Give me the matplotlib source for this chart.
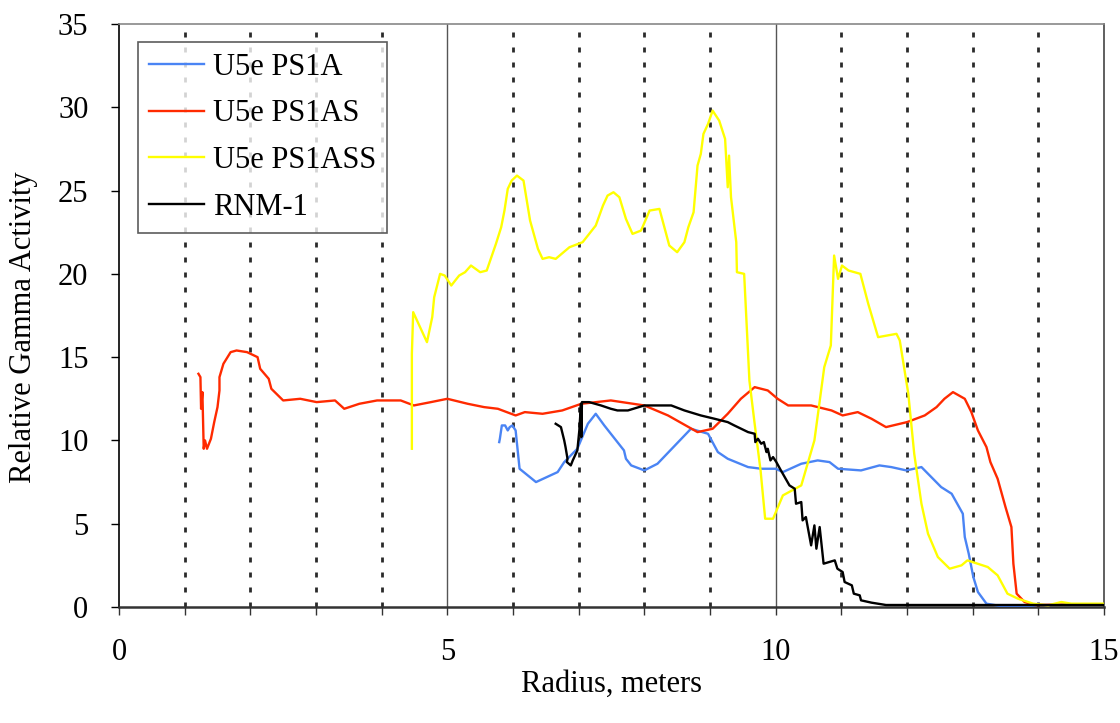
import matplotlib
matplotlib.use("Agg")
import matplotlib.pyplot as plt

# ---------------- data ----------------
red_x = [1.21, 1.24, 1.25, 1.27, 1.29, 1.31, 1.34, 1.40, 1.45, 1.50, 1.53, 1.53, 1.59, 1.70, 1.79,
         1.95, 2.11, 2.15, 2.28, 2.32, 2.50, 2.76, 3.01, 3.29, 3.43, 3.66, 3.93, 4.29, 4.49, 4.75,
         5.00, 5.31, 5.56, 5.77, 6.04, 6.18, 6.45, 6.75, 7.04, 7.49, 8.00, 8.36, 8.81, 9.04, 9.27,
         9.47, 9.68, 9.88, 10.03, 10.19, 10.54, 10.85, 11.02, 11.25, 11.46, 11.68, 12.00, 12.27,
         12.45, 12.57, 12.70, 12.88, 12.98, 13.08, 13.21, 13.27, 13.38, 13.50, 13.59, 13.62, 13.67,
         13.79, 13.95, 14.5, 15.0]
red_y = [14.0, 13.8, 11.9, 12.9, 9.5, 10.0, 9.5, 10.1, 11.1, 12.0, 13.0, 13.8, 14.6, 15.3, 15.4,
         15.3, 15.0, 14.3, 13.7, 13.1, 12.4, 12.5, 12.3, 12.4, 11.9, 12.2, 12.4, 12.4, 12.1, 12.3,
         12.5, 12.2, 12.0, 11.9, 11.5, 11.7, 11.6, 11.8, 12.2, 12.4, 12.1, 11.5, 10.5, 10.7, 11.6,
         12.5, 13.2, 13.0, 12.5, 12.1, 12.1, 11.8, 11.5, 11.7, 11.3, 10.8, 11.1, 11.5,
         12.0, 12.5, 12.9, 12.5, 11.7, 10.6, 9.6, 8.7, 7.7, 6.0, 4.8, 2.6, 0.8,
         0.3, 0.12, 0.15, 0.15]

blue_x = [5.79, 5.80, 5.83, 5.88, 5.92, 5.95, 5.99, 6.04, 6.10, 6.35, 6.68, 6.78, 6.98, 7.14, 7.26,
          7.39, 7.69, 7.72, 7.80, 8.00, 8.20, 8.71, 8.97, 9.12, 9.27, 9.58, 9.78, 10.00, 10.11,
          10.39, 10.64, 10.82, 10.95, 11.30, 11.58, 11.76, 11.99, 12.22, 12.37, 12.52, 12.68, 12.85,
          12.88, 12.94, 13.01, 13.08, 13.21, 13.51, 13.79, 13.95]
blue_y = [9.9, 10.1, 10.9, 10.9, 10.6, 10.8, 10.9, 10.6, 8.3, 7.5, 8.1, 8.7, 9.5, 11.0, 11.6,
          10.9, 9.4, 8.9, 8.5, 8.2, 8.6, 10.7, 10.4, 9.3, 8.9, 8.4, 8.3, 8.3, 8.1,
          8.6, 8.8, 8.7, 8.3, 8.2, 8.5, 8.4, 8.2, 8.4, 7.8, 7.2, 6.8, 5.6,
          4.2, 3.2, 1.8, 0.9, 0.2, 0.0, 0.02, 0.1]

yellow_x = [4.46, 4.46, 4.48, 4.69, 4.77, 4.80, 4.89, 4.96, 5.06, 5.18, 5.27, 5.36, 5.50, 5.60,
            5.74, 5.82, 5.87, 5.92, 5.98, 6.06, 6.16, 6.26, 6.38, 6.45, 6.55, 6.65, 6.86, 7.06,
            7.26, 7.37, 7.44, 7.53, 7.62, 7.72, 7.82, 7.95, 8.08, 8.23, 8.38, 8.50, 8.61, 8.67,
            8.75, 8.81, 8.86, 8.90, 8.97, 9.04, 9.14, 9.23, 9.27, 9.29, 9.32, 9.40, 9.41, 9.52,
            9.60, 9.68, 9.77, 9.84, 9.96, 10.11, 10.39, 10.59, 10.74, 10.84, 10.89, 10.95, 11.01,
            11.11, 11.29, 11.41, 11.56, 11.84, 11.89, 12.02, 12.11, 12.22, 12.32, 12.47, 12.65,
            12.83, 12.92, 13.23, 13.38, 13.53, 13.69, 13.92, 14.15, 14.35, 14.50, 15.0]
yellow_y = [9.5, 15.2, 17.7, 15.9, 17.4, 18.6, 20.0, 19.9, 19.3, 19.9, 20.1, 20.5, 20.1, 20.2,
            21.8, 22.8, 23.8, 25.1, 25.6, 25.9, 25.6, 23.2, 21.5, 20.9, 21.0, 20.9, 21.6, 21.9,
            22.9, 24.1, 24.7, 24.9, 24.6, 23.3, 22.4, 22.6, 23.8, 23.9, 21.7, 21.3, 21.9, 22.8,
            23.7, 26.5, 27.2, 28.4, 29.0, 29.8, 29.2, 28.1, 25.2, 27.1, 24.6, 21.9, 20.1, 20.0,
            13.6, 11.0, 8.2, 5.3, 5.3, 6.7, 7.3, 10.0, 14.4, 15.7, 21.1, 19.7, 20.5,
            20.2, 20.0, 18.2, 16.2, 16.4, 16.0, 12.8, 9.2, 6.2, 4.4, 3.0, 2.3,
            2.5, 2.8, 2.4, 1.9, 0.8, 0.5, 0.2, 0.1, 0.3, 0.2, 0.2]

black_x = [6.65, 6.73, 6.78, 6.80, 6.83, 6.82, 6.88, 6.91, 6.98, 7.01, 7.035, 7.04, 7.05, 7.06,
           7.16, 7.34, 7.49, 7.59, 7.75, 8.00, 8.41, 8.61, 8.86, 9.07, 9.27, 9.37, 9.58, 9.68,
           9.69, 9.73, 9.78, 9.82, 9.86, 9.88, 9.92, 9.96, 10.01, 10.08, 10.21, 10.29, 10.31,
           10.39, 10.41, 10.46, 10.54, 10.59, 10.62, 10.67, 10.73, 10.90, 10.94, 11.02, 11.05,
           11.16, 11.19, 11.28, 11.30, 11.46, 11.68, 15.0]
black_y = [11.0, 10.8, 10.0, 9.6, 8.9, 8.7, 8.5, 8.8, 9.4, 10.6, 12.2, 10.2, 12.3, 12.3,
           12.3, 12.1, 11.9, 11.8, 11.8, 12.1, 12.1, 11.8, 11.5, 11.3, 11.1, 10.9, 10.5, 10.4,
           9.9, 10.1, 9.8, 9.9, 9.3, 9.5, 8.8, 9.0, 8.7, 8.2, 7.3, 7.1, 6.2,
           6.3, 5.2, 5.4, 3.7, 4.9, 3.5, 4.8, 2.6, 2.8, 2.3, 2.1, 1.5,
           1.3, 0.8, 0.7, 0.4, 0.26, 0.12, 0.12]

series_names = ["U5e PS1A", "U5e PS1AS", "U5e PS1ASS", "RNM-1"]
series_colors = ["#4a84f4", "#ff2a00", "#ffff00", "#000000"]

solid_grid = [5, 10]
dotted_grid = [1, 2, 3, 4, 6, 7, 8, 9, 11, 12, 13, 14]
x_ticks = [0, 5, 10, 15]
y_ticks = [0, 5, 10, 15, 20, 25, 30, 35]

# ---------------- figure ----------------
plt.rcParams['font.family'] = ['Liberation Serif', 'DejaVu Serif']
FS = 22

fig = plt.figure(figsize=(11.2, 7.23), dpi=100)
ax = fig.add_axes([119/1120, 1 - 607/723, (1104 - 119)/1120, (607 - 24)/723])

for g in solid_grid:
    ax.axvline(g, color="#555555", lw=1.0, zorder=1)
for g in dotted_grid:
    ax.axvline(g, color="#2a2a2a", lw=2.0, linestyle=(0, (1.8, 3.6)), zorder=1)

data = [(blue_x, blue_y), (red_x, red_y), (yellow_x, yellow_y), (black_x, black_y)]
for (xs, ys), name, col in zip(data, series_names, series_colors):
    ax.plot(xs, ys, color=col, lw=1.7, label=name, zorder=3)

ax.set_xlim(0, 15)
ax.set_ylim(0, 35)
ax.set_xticks(x_ticks)
ax.set_xticks(range(0, 16), minor=True)
ax.set_yticks(y_ticks)
ax.tick_params(axis='x', which='both', direction='out', length=6, width=1, color="#333333",
               labelsize=FS, pad=16)
ax.tick_params(axis='y', which='major', direction='out', length=6, width=1, labelsize=FS, pad=16)

ax.spines['bottom'].set_linewidth(1.8)
ax.spines['bottom'].set_color("#333333")
ax.spines['left'].set_linewidth(1.2)
ax.spines['top'].set_color("#888888")
ax.spines['top'].set_linewidth(1.2)
ax.spines['right'].set_color("#444444")
ax.spines['right'].set_linewidth(1.2)

ax.set_xlabel("Radius, meters", fontsize=FS)
ax.set_ylabel("Relative Gamma Activity", fontsize=FS)
ax.xaxis.set_label_coords(0.5, -0.108)
ax.yaxis.set_label_coords(-0.082, 0.48)

leg = ax.legend(loc='upper left', bbox_to_anchor=((138 - 119)/985, (607 - 42)/583),
                borderaxespad=0, fontsize=FS, frameon=True, fancybox=False,
                handlelength=1.8, handletextpad=0.3, labelspacing=0.58,
                borderpad=0.35)
leg.get_frame().set_edgecolor("#333333")
leg.get_frame().set_linewidth(1.2)
leg.set_zorder(5)

fig.savefig("out.png", dpi=100)
